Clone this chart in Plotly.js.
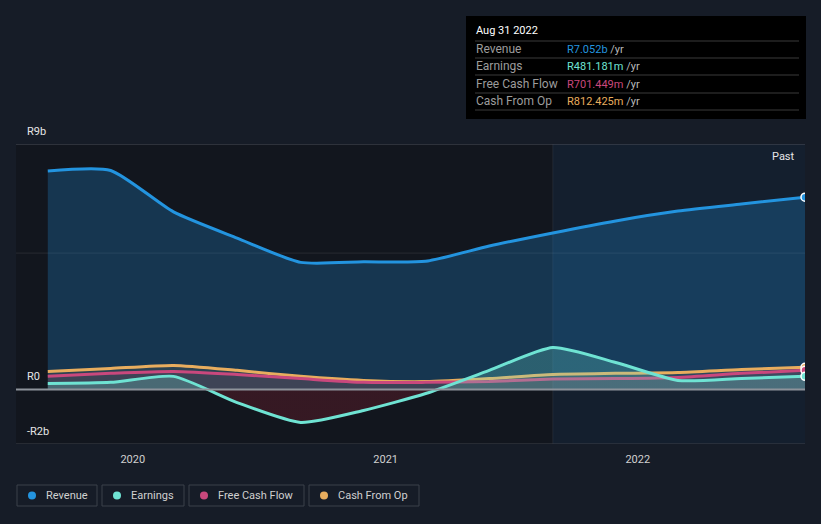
<!DOCTYPE html>
<html>
<head>
<meta charset="utf-8">
<script src="https://cdn.plot.ly/plotly-3.0.1.min.js"></script>
<style>
html,body{margin:0;padding:0;background:#161c27;}
#chart{width:821px;height:524px;}
</style>
</head>
<body>
<div id="chart"></div>
<script>
// ---- data (R billions) ----
const dates = ['2019-08-31','2019-11-30','2020-02-29','2020-05-31','2020-08-31','2020-11-30','2021-02-28','2021-05-31','2021-08-31','2021-11-30','2022-02-28','2022-05-31','2022-08-31'];
const revenue = [8.01, 8.03, 6.51, 5.55, 4.66, 4.68, 4.70, 5.26, 5.74, 6.18, 6.54, 6.80, 7.052];
const earnings = [0.22, 0.26, 0.48, -0.48, -1.21, -0.77, -0.15, 0.70, 1.54, 0.99, 0.33, 0.40, 0.481];
const freeCashFlow = [0.48, 0.59, 0.66, 0.55, 0.40, 0.26, 0.26, 0.29, 0.38, 0.40, 0.44, 0.59, 0.701];
const cashFromOp = [0.66, 0.77, 0.88, 0.70, 0.48, 0.33, 0.29, 0.40, 0.55, 0.59, 0.62, 0.73, 0.812];
const seriesNames = ['Revenue','Earnings','Free Cash Flow','Cash From Op'];
const tooltipDate = 'Aug 31 2022';
const tooltipValues = ['R7.052b','R481.181m','R701.449m','R812.425m'];
const yTickVals = [9, 0, -2];
const yTickText = ['R9b','R0','-R2b'];
const xTickVals = ['2020-01-01','2021-01-01','2022-01-01'];
const xTickText = ['2020','2021','2022'];
const pastStart = '2021-08-31';

const colors = {rev:'#2394df', earn:'#6fe3d3', fcf:'#c9487d', cfo:'#e8ad5e'};
const seriesColors = [colors.rev, colors.earn, colors.fcf, colors.cfo];

// paper coordinate helpers (plot area: x 16..805, y 144..444)
const L=16, R=805, T=144, B=444;
const px = v => (v-L)/(R-L);
const py = v => (B-v)/(B-T);

const last = a => a[a.length-1];
const SM = 0.6;

const traces = [
  {x:dates, y:revenue, type:'scatter', mode:'lines', line:{color:colors.rev, width:3, shape:'spline', smoothing:SM},
   fill:'tozeroy', fillcolor:'rgba(35,148,223,0.26)', hoverinfo:'skip'},
  {x:dates, y:cashFromOp, type:'scatter', mode:'lines', line:{color:colors.cfo, width:3, shape:'spline', smoothing:SM},
   fill:'tozeroy', fillcolor:'rgba(232,173,94,0.10)', hoverinfo:'skip'},
  {x:dates, y:freeCashFlow, type:'scatter', mode:'lines', line:{color:colors.fcf, width:3, shape:'spline', smoothing:SM},
   fill:'tozeroy', fillcolor:'rgba(201,72,125,0.12)', hoverinfo:'skip'},
  {x:dates, y:earnings, type:'scatter', mode:'lines', line:{color:colors.earn, width:3, shape:'spline', smoothing:SM},
   fill:'tozeroy',
   fillgradient:{type:'vertical', start:-2, stop:2,
     colorscale:[[0,'rgba(120,30,45,0.35)'],[0.5,'rgba(120,30,45,0.35)'],[0.5,'rgba(111,227,211,0.24)'],[1,'rgba(111,227,211,0.24)']]},
   hoverinfo:'skip'},
  {x:[last(dates)], y:[last(revenue)], type:'scatter', mode:'markers', marker:{color:colors.rev, size:8, line:{color:'#ffffff', width:1.5}}, hoverinfo:'skip'},
  {x:[last(dates)], y:[last(cashFromOp)], type:'scatter', mode:'markers', marker:{color:colors.cfo, size:8, line:{color:'#ffffff', width:1.5}}, hoverinfo:'skip'},
  {x:[last(dates)], y:[last(freeCashFlow)], type:'scatter', mode:'markers', marker:{color:colors.fcf, size:8, line:{color:'#ffffff', width:1.5}}, hoverinfo:'skip'},
  {x:[last(dates)], y:[last(earnings)], type:'scatter', mode:'markers', marker:{color:colors.earn, size:8, line:{color:'#ffffff', width:1.5}}, hoverinfo:'skip'}
];

const shapes = [
  // past region highlight
  {type:'rect', xref:'x', yref:'paper', x0:pastStart, x1:last(dates), y0:0, y1:1, fillcolor:'rgba(30,80,130,0.16)', line:{width:0}, layer:'below'},
  {type:'line', xref:'x', yref:'paper', x0:pastStart, x1:pastStart, y0:0, y1:1, line:{color:'rgba(255,255,255,0.07)', width:1}, layer:'below'},
  // grid lines
  {type:'line', xref:'paper', yref:'y', x0:0, x1:1, y0:9, y1:9, line:{color:'#4a4f58', width:1}},
  {type:'line', xref:'paper', yref:'y', x0:0, x1:1, y0:5, y1:5, line:{color:'rgba(255,255,255,0.09)', width:1}, layer:'below'},
  {type:'line', xref:'paper', yref:'y', x0:0, x1:1, y0:-2, y1:-2, line:{color:'#3c4049', width:1}},
  {type:'line', xref:'paper', yref:'y', x0:0, x1:1, y0:0, y1:0, line:{color:'#8e939b', width:2}},
  // tooltip box
  {type:'rect', xref:'paper', yref:'paper', x0:px(466), x1:px(806), y0:py(16), y1:py(119), fillcolor:'#000000', line:{width:0}}
];
[41,58,75,93,110].forEach(v=>{
  shapes.push({type:'line', xref:'paper', yref:'paper', x0:px(475), x1:px(799), y0:py(v), y1:py(v), line:{color:'#3a3a3a', width:1}});
});

const annotations = [];
// y labels
yTickVals.forEach((v,i)=>{
  annotations.push({xref:'paper', yref:'y', x:px(25), y:v, yshift:13, xanchor:'left', yanchor:'middle', text:yTickText[i], showarrow:false, font:{family:'Roboto, sans-serif', size:11, color:'#e6e6e6'}});
});
// Past label
annotations.push({xref:'paper', yref:'paper', x:px(797), y:py(156), xanchor:'right', yanchor:'middle', text:'Past', showarrow:false, font:{family:'Roboto, sans-serif', size:11, color:'#e6e6e6'}});
// tooltip texts
annotations.push({xref:'paper', yref:'paper', x:px(474), y:py(31), xanchor:'left', yanchor:'middle', text:tooltipDate, showarrow:false, font:{family:'Roboto, sans-serif', size:11, color:'#ffffff'}});
const rowY = [49,66,84,101];
seriesNames.forEach((n,i)=>{
  annotations.push({xref:'paper', yref:'paper', x:px(474), y:py(rowY[i]), xanchor:'left', yanchor:'middle', text:n, showarrow:false, font:{family:'Roboto, sans-serif', size:12, color:'#9c9c9c'}});
  annotations.push({xref:'paper', yref:'paper', x:px(565), y:py(rowY[i]), xanchor:'left', yanchor:'middle',
    text:'<span style="color:'+seriesColors[i]+'">'+tooltipValues[i]+'</span> /yr', showarrow:false, font:{family:'Roboto, sans-serif', size:11, color:'#b8b8b8'}});
});
// legend boxes
const legBoxes = [[17,97],[102,184],[189,304],[309,419]];
legBoxes.forEach((b,i)=>{
  shapes.push({type:'rect', xref:'paper', yref:'paper', x0:px(b[0]), x1:px(b[1]), y0:py(485), y1:py(506), fillcolor:'rgba(0,0,0,0)', line:{color:'#3b404a', width:1}});
  shapes.push({type:'circle', xref:'paper', yref:'paper', xsizemode:'pixel', ysizemode:'pixel', xanchor:px(b[0]+15), yanchor:py(495.5), x0:-4, x1:4, y0:-4, y1:4, fillcolor:seriesColors[i], line:{width:0}});
  annotations.push({xref:'paper', yref:'paper', x:px(b[0]+27), y:py(495.5), xanchor:'left', yanchor:'middle', text:seriesNames[i], showarrow:false, font:{family:'Roboto, sans-serif', size:11, color:'#d0d0d0'}});
});

const layout = {
  width:821, height:524,
  margin:{l:L, r:821-R, t:T, b:524-B},
  paper_bgcolor:'#161c27',
  plot_bgcolor:'#12161e',
  showlegend:false,
  xaxis:{type:'date', range:['2019-07-16', last(dates)], showgrid:false, zeroline:false, showline:false,
    tickvals:xTickVals, ticktext:xTickText, ticks:'outside', ticklen:5, tickcolor:'rgba(0,0,0,0)',
    tickfont:{family:'Roboto, sans-serif', size:11, color:'#d0d0d0'}, fixedrange:true},
  yaxis:{range:[-2,9], showgrid:false, zeroline:false, showticklabels:false, showline:false, fixedrange:true},
  shapes:shapes,
  annotations:annotations
};

Plotly.newPlot('chart', traces, layout, {displayModeBar:false, staticPlot:true});
</script>
</body>
</html>
